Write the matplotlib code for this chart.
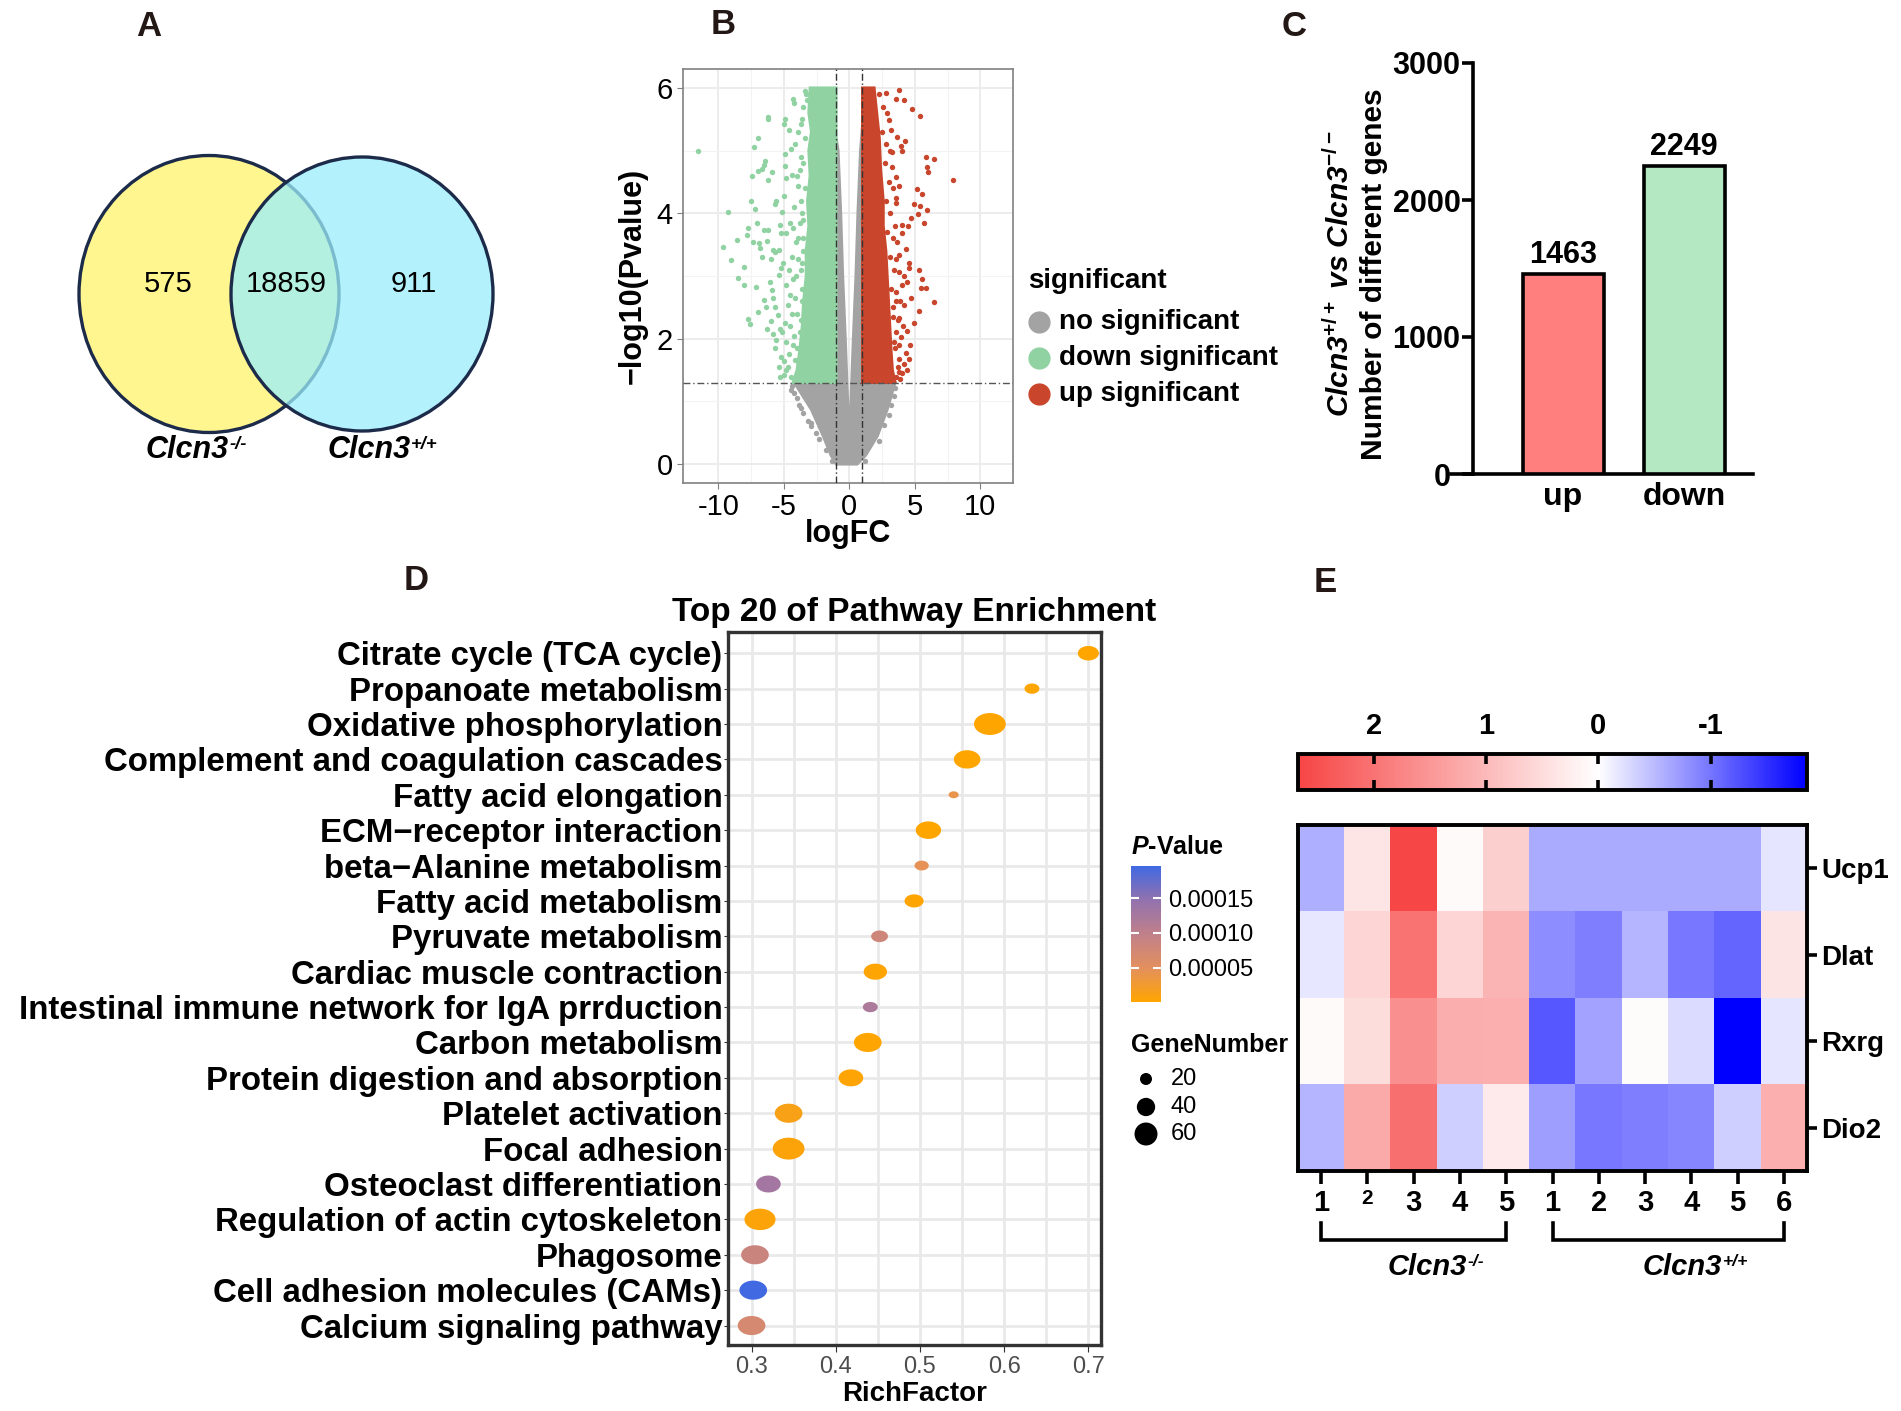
import numpy as np
import matplotlib
matplotlib.use("Agg")
import matplotlib.pyplot as plt
import matplotlib.transforms as mtransforms
from matplotlib.patches import Ellipse, Polygon
from matplotlib.colors import LinearSegmentedColormap, Normalize
from matplotlib.cm import ScalarMappable
from matplotlib.lines import Line2D
from matplotlib.path import Path

plt.rcParams["font.family"] = ["Liberation Sans", "DejaVu Sans"]
plt.rcParams["mathtext.fontset"] = "custom"
plt.rcParams["mathtext.it"] = "Liberation Sans:italic:bold"
plt.rcParams["mathtext.rm"] = "Liberation Sans:bold"
plt.rcParams["mathtext.bf"] = "Liberation Sans:bold"
plt.rcParams["axes.unicode_minus"] = False

# ---------------- data ----------------
# A: Venn
venn_counts = [575, 18859, 911]          # only Clcn3-/-, shared, only Clcn3+/+

# B: volcano (dense cores as outlines, sparse dots listed)
gray_core = [(-1.0, 0.0), (0.6, 0.0), (1.25, 0.14), (2.15, 0.45), (2.9, 0.87), (3.5, 1.3),
             (1.0, 1.3), (1.0, 5.4), (0.85, 5.0), (0.65, 4.0), (0.5, 3.0), (0.3, 2.0),
             (0.12, 1.0), (0.0, 0.35), (-0.12, 1.0), (-0.3, 2.0), (-0.5, 3.0), (-0.65, 4.0),
             (-0.85, 5.0), (-1.0, 5.2), (-1.0, 1.3), (-4.2, 1.3), (-2.9, 0.87), (-2.0, 0.45),
             (-1.4, 0.14)]
green_core = [(-1.0, 1.3), (-1.0, 6.0), (-3.0, 6.0), (-3.1, 5.6), (-2.9, 5.3), (-3.1, 5.0),
              (-3.0, 4.6), (-3.2, 4.2), (-3.1, 3.8), (-3.3, 3.4), (-3.3, 3.0), (-3.5, 2.6),
              (-3.6, 2.2), (-3.8, 1.8), (-4.0, 1.5), (-4.3, 1.3)]
red_core = [(1.0, 1.3), (1.0, 6.0), (1.9, 6.0), (2.1, 5.6), (2.3, 5.2), (2.4, 4.7),
            (2.6, 4.2), (2.6, 3.8), (2.8, 3.4), (2.9, 3.0), (3.0, 2.6), (3.1, 2.2),
            (3.2, 1.8), (3.3, 1.5), (3.5, 1.3)]
green_points = [(-11.55, 4.99), (-9.27, 4.02), (-9.65, 3.47), (-9.02, 3.26), (-8.58, 3.58),
                (-8.05, 3.15), (-8.51, 2.97), (-8.05, 2.86), (-7.74, 2.32), (-7.62, 2.24),
                (-7.36, 3.54), (-6.93, 3.53), (-7.03, 3.85), (-7.74, 3.77), (-7.79, 3.66),
                (-7.23, 4.07), (-7.49, 4.19), (-6.55, 3.74), (-6.19, 3.74), (-6.85, 3.44),
                (-6.67, 3.30), (-6.27, 3.55), (-5.83, 3.41), (-5.66, 3.38), (-5.96, 3.27),
                (-5.20, 3.69), (-5.33, 3.81), (-6.21, 5.50), (-6.98, 5.20), (-7.29, 5.05),
                (-6.47, 4.84), (-6.52, 4.77), (-6.67, 4.70), (-6.98, 4.67), (-7.44, 4.60),
                (-5.91, 4.65), (-6.21, 4.53), (-4.94, 5.50), (-4.99, 5.43), (-4.61, 5.33),
                (-4.26, 5.76), (-4.94, 4.95), (-4.49, 5.02), (-4.88, 4.76), (-4.83, 4.57),
                (-4.38, 4.61), (-4.99, 4.28), (-5.58, 4.19), (-5.71, 4.14), (-5.12, 4.02),
                (-4.56, 3.84), (-4.31, 3.77), (-4.82, 3.69), (-5.38, 3.42), (-5.07, 3.20),
                (-5.20, 3.13), (-5.40, 3.02), (-6.06, 2.91), (-7.11, 2.83), (-5.91, 2.78),
                (-6.52, 2.62), (-5.83, 2.65), (-6.34, 2.51), (-6.98, 2.43), (-5.71, 2.51),
                (-5.45, 2.38), (-6.01, 2.29), (-4.94, 2.25), (-6.27, 2.15), (-5.15, 2.10),
                (-5.83, 2.07), (-4.56, 2.70), (-4.69, 2.54), (-4.18, 2.65), (-4.31, 2.96),
                (-3.93, 3.27), (-4.05, 3.54), (-3.80, 3.85), (-3.93, 4.43), (-3.80, 4.69),
                (-4.18, 5.11), (-3.67, 5.42), (-3.54, 5.69), (-5.71, 1.86), (-5.20, 1.71),
                (-4.99, 1.42), (-5.33, 1.39), (-4.69, 1.55), (-4.44, 1.39), (-4.18, 1.66),
                (-3.67, 1.76), (-3.80, 1.50), (-3.42, 1.61), (-3.16, 1.39), (-6.22, 5.53),
                (-4.33, 5.82), (-5.60, 1.98), (-5.30, 2.15), (-4.80, 1.95), (-4.50, 2.20),
                (-4.20, 2.05), (-4.00, 1.85), (-3.70, 2.30), (-3.60, 2.80), (-3.50, 3.40),
                (-3.60, 4.00), (-3.70, 4.90), (-3.40, 5.95), (-3.20, 5.80),
                (-3.30, 5.90), (-3.60, 5.50), (-3.40, 5.20), (-3.90, 5.30), (-3.50, 4.80),
                (-4.00, 4.60), (-3.40, 4.40), (-3.70, 4.20), (-4.20, 4.10), (-3.50, 3.90),
                (-3.90, 3.60), (-3.50, 3.60), (-4.40, 3.30), (-3.70, 3.10), (-4.10, 3.00),
                (-3.60, 2.60), (-4.00, 2.40), (-4.40, 2.40), (-3.80, 2.10), (-4.30, 1.90),
                (-3.90, 1.65), (-4.60, 1.75), (-4.80, 1.50), (-5.00, 1.65), (-4.10, 1.40),
                (-5.40, 1.55), (-3.40, 1.45), (-3.60, 3.20), (-4.60, 3.10), (-4.80, 2.85)]
red_points = [(3.80, 5.96), (4.18, 5.80), (4.82, 5.66), (5.40, 5.55), (3.16, 5.33), (4.26, 5.16),
              (3.93, 5.07), (5.83, 4.89), (6.45, 4.86), (5.96, 4.73), (6.01, 4.65), (7.92, 4.53),
              (5.20, 4.38), (5.53, 4.31), (4.97, 4.14), (5.38, 4.12), (5.91, 4.05), (5.27, 3.99),
              (4.74, 3.93), (5.68, 3.84), (4.51, 3.80), (4.05, 3.82), (3.54, 4.24), (3.54, 4.17),
              (3.67, 3.54), (3.80, 3.33), (4.56, 3.21), (5.33, 3.09), (5.58, 2.96), (5.48, 2.81),
              (5.89, 2.81), (6.47, 2.59), (5.33, 2.44), (4.56, 3.12), (4.43, 2.91), (4.69, 2.65),
              (4.18, 2.54), (4.94, 2.25), (4.43, 2.12), (3.93, 2.02), (3.62, 5.21), (3.24, 4.98),
              (3.04, 5.48), (2.78, 5.92), (3.54, 5.82), (4.05, 5.00), (3.29, 4.74), (3.54, 4.58),
              (3.80, 4.43), (4.05, 3.69), (4.31, 3.43), (3.54, 3.27), (3.80, 3.07), (4.05, 2.86),
              (3.54, 2.75), (3.80, 2.33), (3.80, 1.68), (4.56, 1.68), (4.18, 1.60), (3.80, 1.47),
              (4.30, 1.78), (3.54, 1.39), (3.40, 1.95), (3.60, 2.10), (4.60, 1.90), (4.40, 1.50),
              (3.30, 2.50), (2.30, 5.90), (2.60, 5.70), (2.50, 5.30), (2.80, 5.10), (2.70, 4.80),
              (3.00, 4.50), (2.80, 4.20), (3.10, 4.00), (2.90, 3.70), (3.30, 3.60), (3.10, 3.30),
              (3.40, 3.10), (3.20, 2.80), (3.60, 2.60), (3.30, 2.35), (3.70, 2.30), (3.50, 1.85),
              (3.80, 1.90), (3.70, 1.55), (4.00, 1.45), (3.90, 1.35), (4.10, 2.20), (3.90, 2.60),
              (4.20, 3.00), (3.50, 3.80), (3.30, 4.40), (3.10, 5.00), (2.90, 5.60)]
gray_points = [(-4.49, 1.18), (-4.23, 1.13), (-3.67, 0.90), (-3.54, 0.82), (-3.16, 0.69),
               (-2.96, 0.61), (-2.53, 0.50), (-2.35, 0.40), (-1.76, 0.22), (-2.91, 0.66),
               (-4.00, 1.05), (-3.85, 0.95), (3.04, 0.79), (2.65, 0.63), (2.27, 0.37),
               (3.16, 0.95), (3.42, 1.08), (-4.35, 1.25), (3.50, 1.22), (-1.30, 0.05),
               (1.20, 0.05)]
fc_cut = 1.0
p_cut = 1.3

# C: DEG counts
deg_labels = ["up", "down"]
deg_counts = [1463, 2249]

# D: KEGG enrichment (top to bottom)
pathways = ["Citrate cycle (TCA cycle)", "Propanoate metabolism", "Oxidative phosphorylation",
            "Complement and coagulation cascades", "Fatty acid elongation",
            "ECM\u2212receptor interaction", "beta\u2212Alanine metabolism", "Fatty acid metabolism",
            "Pyruvate metabolism", "Cardiac muscle contraction",
            "Intestinal immune network for IgA prrduction", "Carbon metabolism",
            "Protein digestion and absorption", "Platelet activation", "Focal adhesion",
            "Osteoclast differentiation", "Regulation of actin cytoskeleton", "Phagosome",
            "Cell adhesion molecules (CAMs)", "Calcium signaling pathway"]
rich_factor = [0.700, 0.633, 0.583, 0.556, 0.540, 0.510, 0.502, 0.493, 0.452, 0.447,
               0.441, 0.438, 0.418, 0.344, 0.344, 0.320, 0.310, 0.304, 0.302, 0.300]
gene_number = [27, 16, 55, 40, 10, 37, 15, 23, 19, 32, 16, 43, 35, 43, 55, 35, 53, 43, 43, 43]
p_value = [2e-7, 5e-7, 1e-7, 4e-7, 4.0e-5, 8e-7, 4.5e-5, 1.5e-6, 8.0e-5, 2e-6,
           1.2e-4, 1e-6, 3e-6, 1.2e-5, 5e-6, 1.3e-4, 6e-6, 8.5e-5, 1.97e-4, 7.0e-5]
size_legend = [20, 40, 60]

# E: heatmap z-scores
heat_genes = ["Ucp1", "Dlat", "Rxrg", "Dio2"]
heat_samples = ["1", "2", "3", "4", "5", "1", "2", "3", "4", "5", "6"]
heat_z = [[-0.58, 0.36, 2.65, 0.07, 0.68, -0.61, -0.61, -0.61, -0.61, -0.61, -0.18],
          [-0.17, 0.60, 1.99, 0.60, 1.08, -0.82, -0.93, -0.54, -0.98, -1.13, 0.39],
          [0.07, 0.49, 1.61, 1.17, 1.15, -1.22, -0.66, 0.04, -0.25, -1.86, -0.18],
          [-0.54, 1.22, 2.06, -0.34, 0.30, -0.69, -0.98, -0.93, -0.87, -0.34, 1.14]]
heat_range = (-1.86, 2.68)

# ---------------- layout helpers (pixel boxes) ----------------
W, H = 1901, 1411
fig = plt.figure(figsize=(W / 100, H / 100), dpi=100)


def px_axes(x0, y0, x1, y1):
    return fig.add_axes([x0 / W, 1 - y1 / H, (x1 - x0) / W, (y1 - y0) / H])


def fig_text(x, y, s, **kw):
    return fig.text(x / W, 1 - y / H, s, **kw)


def genotype_label(ax, x, y, base, sup, size, transform):
    # italic gene name with a hyphen-style superscript genotype
    t = ax.text(x, y, base, transform=transform, fontsize=size, fontstyle="italic",
                fontweight="bold", ha="center", va="center")
    ax.annotate(sup, xy=(1, 1), xycoords=t, xytext=(0.5, -1), textcoords="offset points",
                fontsize=size * 0.6, fontstyle="italic", fontweight="bold", ha="left", va="top")


for letter, (lx, ly) in zip("ABCDE", [(149, 26), (723, 24), (1294, 26), (416, 580), (1325, 582)]):
    fig_text(lx, ly, letter, fontsize=25, fontweight="bold", ha="center", va="center", color="#231815")

# ---------------- A: Venn ----------------
axA = px_axes(0, 0, 600, 560)
axA.set_xlim(0, 600)
axA.set_ylim(560, 0)
axA.axis("off")
navy = "#1C2B4A"
axA.add_patch(Ellipse((209, 294), 260, 277, facecolor="#FFF68F", edgecolor=navy, lw=2.4))
axA.add_patch(Ellipse((362, 294), 262, 274, facecolor="#9AEEFB", edgecolor="none", alpha=0.75))
axA.add_patch(Ellipse((362, 294), 262, 274, facecolor="none", edgecolor=navy, lw=2.4))
for cx, n in zip([168, 286, 414], venn_counts):
    axA.text(cx, 284, str(n), fontsize=21, ha="center", va="center")
genotype_label(axA, 187, 450, "Clcn3", "-/-", 22, axA.transData)
genotype_label(axA, 369, 450, "Clcn3", "+/+", 22, axA.transData)

# ---------------- B: volcano ----------------
grey_c, green_c, red_c = "#A3A3A3", "#90D2A2", "#C9462C"
axB = px_axes(683, 69, 1013, 483)
axB.set_xlim(-12.7, 12.5)
axB.set_ylim(-0.3, 6.3)
axB.set_xticks([-10, -5, 0, 5, 10])
axB.set_xticks([-7.5, -2.5, 2.5, 7.5], minor=True)
axB.set_yticks([0, 2, 4, 6])
axB.set_yticks([1, 3, 5], minor=True)
axB.grid(True, which="major", color="#EBEBEB", lw=1.3)
axB.grid(True, which="minor", color="#F3F3F3", lw=0.8)
axB.set_axisbelow(True)
for sp in axB.spines.values():
    sp.set_color("#808080")
    sp.set_linewidth(1.2)
axB.tick_params(which="major", colors="#808080", labelcolor="black", labelsize=21, length=4)
axB.tick_params(which="minor", length=0)
for core, col in [(gray_core, grey_c), (green_core, green_c), (red_core, red_c)]:
    axB.add_patch(Polygon(core, closed=True, facecolor=col, edgecolor=col, lw=2, zorder=2))
for pts, col in [(gray_points, grey_c), (green_points, green_c), (red_points, red_c)]:
    arr = np.array(pts)
    axB.scatter(arr[:, 0], arr[:, 1], s=15, color=col, linewidths=0, zorder=3)
dash = (0, (5, 2, 1, 2))
axB.axhline(p_cut, color="#555555", lw=1.0, ls=dash, zorder=4)
axB.axvline(-fc_cut, color="#333333", lw=1.0, ls=dash, zorder=4)
axB.axvline(fc_cut, color="#333333", lw=1.0, ls=dash, zorder=4)
axB.set_xlabel("logFC", fontsize=22, fontweight="bold", labelpad=-2)
axB.set_ylabel("\u2212log10(Pvalue)", fontsize=22, fontweight="bold", labelpad=6)

fig_text(1028, 281, "significant", fontsize=20, fontweight="bold", va="center")
for yy, lab, col in [(322, "no significant", grey_c), (358, "down significant", green_c),
                     (394, "up significant", red_c)]:
    fig.add_artist(Line2D([1039 / W], [1 - yy / H], marker="o", markersize=15, color=col,
                          transform=fig.transFigure))
    fig_text(1059, yy, lab, fontsize=20, fontweight="bold", va="center")

# ---------------- C: bar chart ----------------
axC = px_axes(1451, 63, 1753, 474)
axC.set_xlim(-0.926, 1.570)
axC.set_ylim(0, 3000)
axC.bar([0, 1], deg_counts, width=0.67, color=["#FF7F7F", "#B3E8C3"], edgecolor="black", lw=2.6,
        zorder=3)
for i, v in enumerate(deg_counts):
    axC.text(i, v + 25, str(v), ha="center", va="bottom", fontsize=22, fontweight="bold")
for s in ["top", "right"]:
    axC.spines[s].set_visible(False)
axC.spines["left"].set_position(("data", -0.744))
axC.spines["left"].set_bounds(0, 3000)
axC.spines["left"].set_linewidth(2.6)
axC.spines["bottom"].set_linewidth(2.6)
axC.set_yticks([0, 1000, 2000, 3000])
axC.set_xticks([0, 1])
axC.set_xticklabels(deg_labels)
axC.tick_params(axis="y", length=8, width=2.6, labelsize=22, pad=1)
axC.tick_params(axis="x", length=0, labelsize=23, pad=6)
for lab in axC.get_xticklabels() + axC.get_yticklabels():
    lab.set_fontweight("bold")
zero_lab = axC.yaxis.get_major_ticks()[0].label1
zero_lab.set_transform(zero_lab.get_transform()
                       + mtransforms.ScaledTranslation(-10 / 100, 0, fig.dpi_scale_trans))
fig_text(1340, 274, "Clcn3$^{+/+}$ vs Clcn3$^{-/-}$", rotation=90, fontsize=21.5, fontstyle="italic",
         fontweight="bold", ha="center", va="center")
fig_text(1374, 274, "Number of different genes", rotation=90, fontsize=21.5, fontweight="bold",
         ha="center", va="center")

# ---------------- D: bubble plot ----------------
axD = px_axes(728, 632, 1101, 1345)
n_path = len(pathways)
ypos = np.arange(n_path, 0, -1)
axD.set_xlim(0.272, 0.715)
axD.set_ylim(0.45, n_path + 0.6)
axD.set_xticks([0.3, 0.4, 0.5, 0.6, 0.7])
axD.set_xticks([0.35, 0.45, 0.55, 0.65], minor=True)
axD.set_yticks(ypos)
axD.set_yticklabels(pathways)
axD.grid(True, which="both", color="#E9E9E9", lw=2.0)
axD.set_axisbelow(True)
for sp in axD.spines.values():
    sp.set_color("#333333")
    sp.set_linewidth(2.4)
axD.tick_params(axis="y", colors="#333333", labelcolor="black", labelsize=23.8, length=3, pad=1)
axD.tick_params(axis="x", which="major", colors="#333333", labelcolor="#4D4D4D", labelsize=17,
                length=5, pad=3)
axD.tick_params(axis="x", which="minor", length=0)
for lab in axD.get_yticklabels():
    lab.set_fontweight("bold")

p_cmap = LinearSegmentedColormap.from_list(
    "pv", [(0, "#FFA500"), (0.25, "#E3905E"), (0.5, "#C0808A"), (0.75, "#9272AE"), (1, "#4169E1")])
p_norm = Normalize(vmin=min(p_value), vmax=max(p_value))

aspect = 1.45
t = np.linspace(0, 2 * np.pi, 64)
ell_marker = Path(np.column_stack([np.cos(t), np.sin(t) / aspect]))


def diam_px(n):
    return np.sqrt(9.6 * np.asarray(n, dtype=float) - 48)


sizes = (diam_px(gene_number) * aspect * 0.72) ** 2
axD.scatter(rich_factor, ypos, s=sizes, c=p_value, cmap=p_cmap, norm=p_norm, marker=ell_marker,
            linewidths=0, zorder=3)
axD.set_title("Top 20 of Pathway Enrichment", fontsize=24, fontweight="bold", pad=8)
axD.set_xlabel("RichFactor", fontsize=20, fontweight="bold", labelpad=2)

fig_text(1131, 847, "$\\mathit{P}$-Value", fontsize=18, fontweight="bold", va="center")
caxD = px_axes(1131, 866, 1161, 1002)
cbD = fig.colorbar(ScalarMappable(norm=p_norm, cmap=p_cmap), cax=caxD)
cbD.outline.set_visible(False)
cbD.set_ticks([5e-5, 1e-4, 1.5e-4])
cbD.set_ticklabels(["0.00005", "0.00010", "0.00015"])
caxD.tick_params(color="white", direction="in", length=6, width=1.5, left=True, right=True,
                 labelsize=17, pad=5)

fig_text(1131, 1045, "GeneNumber", fontsize=18, fontweight="bold", va="center")
axG = px_axes(1125, 1062, 1255, 1152)
axG.set_xlim(1125, 1255)
axG.set_ylim(1152, 1062)
axG.axis("off")
leg_y = [1079, 1107, 1134]
axG.scatter([1146] * 3, leg_y, s=(diam_px(size_legend) * 0.72) ** 2, color="black", linewidths=0)
for yy, n in zip(leg_y, size_legend):
    axG.text(1171, yy, str(n), fontsize=17, va="center")

# ---------------- E: heatmap ----------------
heat_cmap = LinearSegmentedColormap.from_list(
    "bwr2", [(0, "#0000FF"), (-heat_range[0] / (heat_range[1] - heat_range[0]), "#FFFFFF"),
             (1, "#F74545")])
heat_norm = Normalize(vmin=heat_range[0], vmax=heat_range[1])

axE = px_axes(1298, 825, 1807, 1171)
axE.imshow(np.array(heat_z), cmap=heat_cmap, norm=heat_norm, aspect="auto")
for sp in axE.spines.values():
    sp.set_linewidth(2.8)
axE.set_xticks(range(len(heat_samples)))
axE.set_xticklabels(heat_samples)
axE.set_yticks(range(len(heat_genes)))
axE.set_yticklabels(heat_genes)
axE.yaxis.tick_right()
axE.tick_params(axis="x", length=9, width=2.6, labelsize=21, pad=4)
axE.tick_params(axis="y", length=7, width=2.6, labelsize=20, pad=3)
for lab in axE.get_xticklabels() + axE.get_yticklabels():
    lab.set_fontweight("bold")
axE.get_xticklabels()[1].set_fontsize(15)

caxE = px_axes(1298, 754, 1807, 790)
cbE = fig.colorbar(ScalarMappable(norm=heat_norm, cmap=heat_cmap), cax=caxE, orientation="horizontal")
cbE.ax.invert_xaxis()
cbE.set_ticks([2, 1, 0, -1])
cbE.set_ticklabels(["2", "1", "0", "-1"])
cbE.outline.set_linewidth(2.8)
caxE.tick_params(axis="x", direction="in", top=True, bottom=True, labeltop=True, labelbottom=False,
                 length=7, width=2.6, labelsize=21, pad=10)
for lab in caxE.get_xticklabels():
    lab.set_fontweight("bold")

trans = mtransforms.blended_transform_factory(axE.transData, fig.transFigure)
y_top, y_bot, y_lab = 1 - 1223 / H, 1 - 1240 / H, 1 - 1267 / H
for (c0, c1), sup in [((0, 4), "-/-"), ((5, 10), "+/+")]:
    axE.plot([c0, c0, c1, c1], [y_top, y_bot, y_bot, y_top], color="black", lw=2.6,
             transform=trans, clip_on=False, solid_joinstyle="miter")
    genotype_label(axE, (c0 + c1) / 2 + 0.3, y_lab, "Clcn3", sup, 21, trans)

fig.savefig("out.png", dpi=100)
